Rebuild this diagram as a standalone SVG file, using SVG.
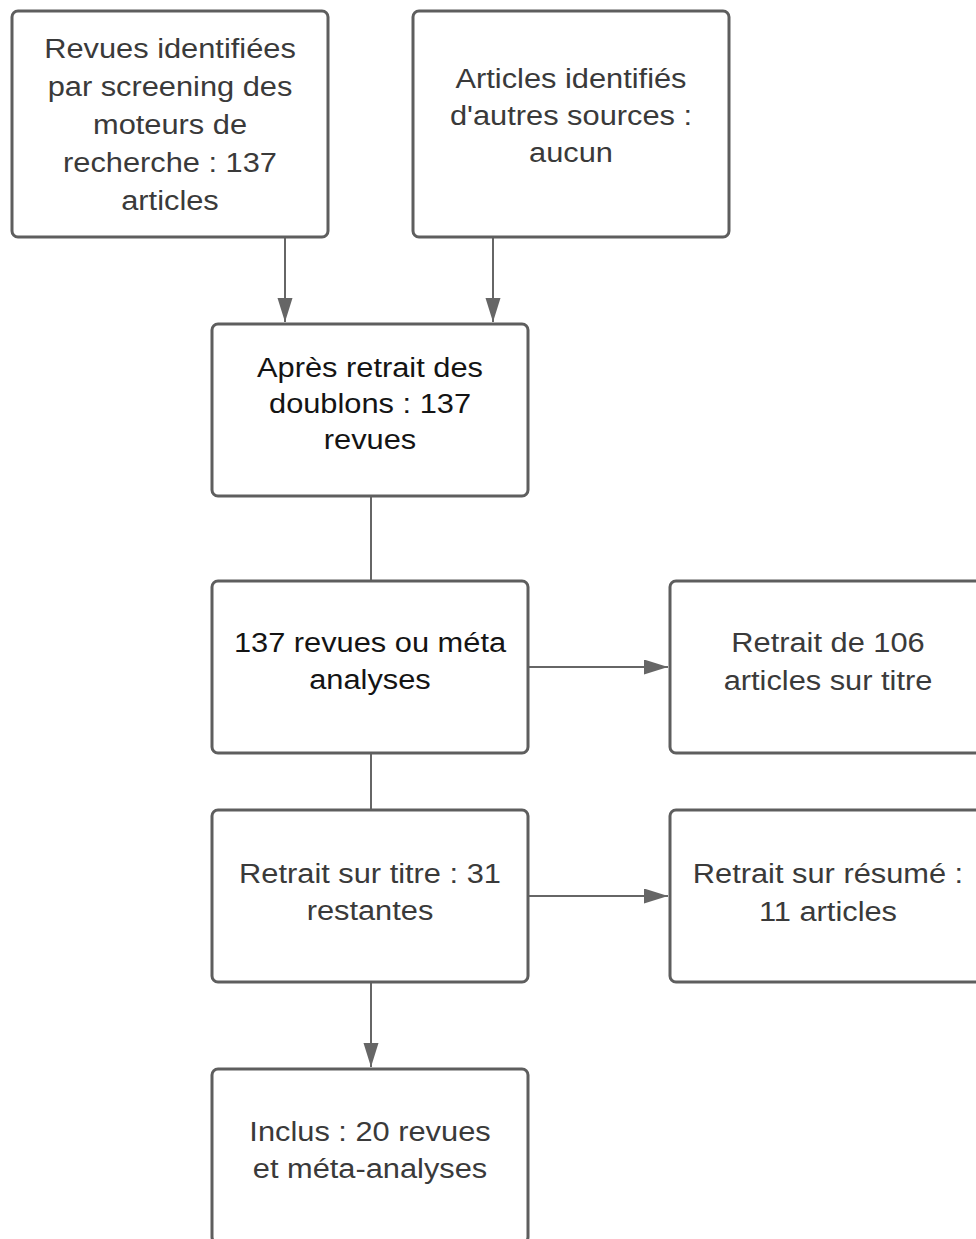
<svg xmlns="http://www.w3.org/2000/svg" width="976" height="1239" viewBox="0 0 976 1239">
  <style>
    .box { fill: #ffffff; stroke: #5e5e5e; stroke-width: 3; }
    .t { font-family: "Liberation Sans", Arial, sans-serif; font-size: 28px; fill: #3a3a3a; text-anchor: middle; }
    .dark { fill: #141414; }
    .edge { stroke: #666666; stroke-width: 2; fill: none; }
  </style>
  <defs>
    <marker id="arrow" markerUnits="userSpaceOnUse" markerWidth="24" markerHeight="16" refX="24" refY="7.5" orient="auto">
      <path d="M0,0 L24,7.5 L0,15 Z" fill="#666666"/>
    </marker>
  </defs>
  <rect x="0" y="0" width="976" height="1239" fill="#ffffff"/>

  <g id="connectors">
    <line class="edge" x1="285" y1="238" x2="285" y2="322" marker-end="url(#arrow)"/>
    <line class="edge" x1="493" y1="238" x2="493" y2="322" marker-end="url(#arrow)"/>
    <line class="edge" x1="371" y1="497" x2="371" y2="580"/>
    <line class="edge" x1="371" y1="754" x2="371" y2="809"/>
    <line class="edge" x1="371" y1="983" x2="371" y2="1067" marker-end="url(#arrow)"/>
    <line class="edge" x1="529" y1="667" x2="668" y2="667" marker-end="url(#arrow)"/>
    <line class="edge" x1="529" y1="896" x2="668" y2="896" marker-end="url(#arrow)"/>
  </g>

  <g id="node-revues-identifiees">
    <rect class="box" x="12" y="11" width="316" height="226" rx="6"/>
    <g transform="translate(170 0) scale(1.1 1)">
      <text class="t" x="0" y="58">Revues identifiées</text>
      <text class="t" x="0" y="96">par screening des</text>
      <text class="t" x="0" y="134">moteurs de</text>
      <text class="t" x="0" y="172">recherche : 137</text>
      <text class="t" x="0" y="210">articles</text>
    </g>
  </g>

  <g id="node-autres-sources">
    <rect class="box" x="413" y="11" width="316" height="226" rx="6"/>
    <g transform="translate(571 0) scale(1.1 1)">
      <text class="t" x="0" y="88">Articles identifiés</text>
      <text class="t" x="0" y="125">d'autres sources :</text>
      <text class="t" x="0" y="162">aucun</text>
    </g>
  </g>

  <g id="node-doublons">
    <rect class="box" x="212" y="324" width="316" height="172" rx="6"/>
    <g transform="translate(370 0) scale(1.1 1)">
      <text class="t dark" x="0" y="377">Après retrait des</text>
      <text class="t dark" x="0" y="413">doublons : 137</text>
      <text class="t dark" x="0" y="449">revues</text>
    </g>
  </g>

  <g id="node-137-revues">
    <rect class="box" x="212" y="581" width="316" height="172" rx="6"/>
    <g transform="translate(370 0) scale(1.1 1)">
      <text class="t dark" x="0" y="652">137 revues ou méta</text>
      <text class="t dark" x="0" y="689">analyses</text>
    </g>
  </g>

  <g id="node-retrait-106">
    <rect class="box" x="670" y="581" width="316" height="172" rx="6"/>
    <g transform="translate(828 0) scale(1.1 1)">
      <text class="t" x="0" y="652">Retrait de 106</text>
      <text class="t" x="0" y="690">articles sur titre</text>
    </g>
  </g>

  <g id="node-retrait-titre">
    <rect class="box" x="212" y="810" width="316" height="172" rx="6"/>
    <g transform="translate(370 0) scale(1.1 1)">
      <text class="t" x="0" y="883">Retrait sur titre : 31</text>
      <text class="t" x="0" y="920">restantes</text>
    </g>
  </g>

  <g id="node-retrait-resume">
    <rect class="box" x="670" y="810" width="316" height="172" rx="6"/>
    <g transform="translate(828 0) scale(1.1 1)">
      <text class="t" x="0" y="883">Retrait sur résumé :</text>
      <text class="t" x="0" y="921">11 articles</text>
    </g>
  </g>

  <g id="node-inclus">
    <rect class="box" x="212" y="1069" width="316" height="174" rx="6"/>
    <g transform="translate(370 0) scale(1.1 1)">
      <text class="t" x="0" y="1141">Inclus : 20 revues</text>
      <text class="t" x="0" y="1178">et méta-analyses</text>
    </g>
  </g>
</svg>
